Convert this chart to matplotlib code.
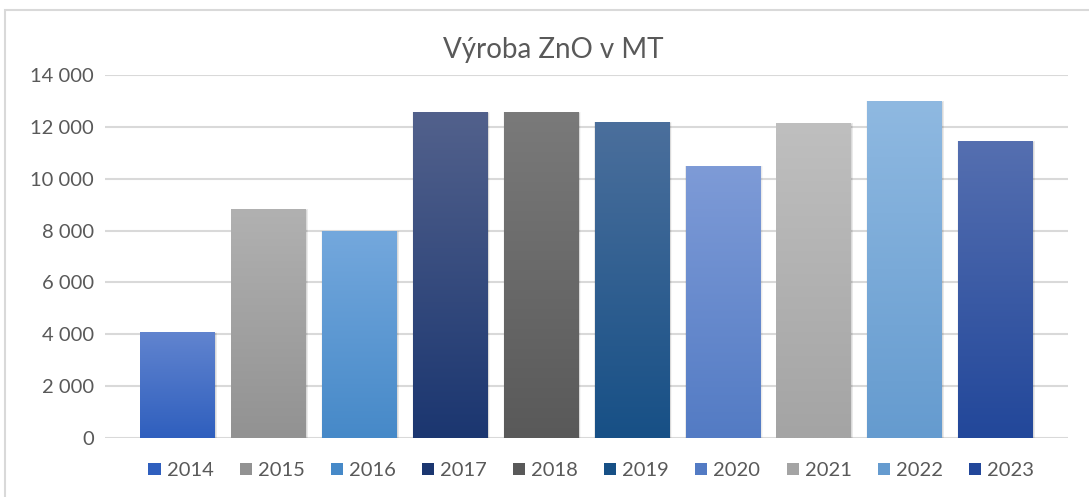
import numpy as np
from matplotlib import pyplot as plt
from matplotlib.patches import Rectangle
from matplotlib.colors import LinearSegmentedColormap
from matplotlib.ticker import FuncFormatter

years = ['2014', '2015', '2016', '2017', '2018', '2019', '2020', '2021', '2022', '2023']
production = [4080, 8830, 7980, 12570, 12570, 12190, 10490, 12150, 13000, 11450]
top_colors = ['#6184cf', '#b1b1b1', '#74a8dd', '#52618c', '#7a7a7a',
              '#4b6f9c', '#7e9bd7', '#bfbfbf', '#8fb9e1', '#556fb0']
bottom_colors = ['#2f5fbe', '#929292', '#4689c8', '#1b3670', '#595959',
                 '#175086', '#537bc4', '#a4a4a4', '#659bcf', '#22479a']

plt.rcParams['font.family'] = ['Lato', 'DejaVu Sans']

fig = plt.figure(figsize=(10.89, 4.97), dpi=100)
# chart border
fig.patches.append(Rectangle((5 / 1089, -0.1), 1.2, (497 - 10) / 497 + 0.1,
                             transform=fig.transFigure, fill=False,
                             edgecolor='#d9d9d9', linewidth=1.5))

ax = fig.add_axes([105 / 1089, 59 / 497, 963 / 1089, 363 / 497])

width = 0.82
for i, (v, c1, c2) in enumerate(zip(production, top_colors, bottom_colors)):
    # soft shadow
    for k, a in [(0.06, 0.03), (0.04, 0.05), (0.02, 0.07)]:
        ax.add_patch(Rectangle((i - width / 2 - k * 0.3 + 0.01, -60), width + k * 0.6,
                               v + k * 1200, facecolor='black', alpha=a,
                               edgecolor='none', zorder=2))
    cmap = LinearSegmentedColormap.from_list('g%d' % i, [c2, c1])
    grad = np.linspace(0, 1, 256).reshape(-1, 1)
    im = ax.imshow(grad, cmap=cmap, aspect='auto', origin='lower',
                   extent=(i - width / 2, i + width / 2, 0, v), zorder=3)
    rect = Rectangle((i - width / 2, 0), width, v, facecolor='none',
                     edgecolor='none', zorder=3)
    ax.add_patch(rect)
    im.set_clip_path(rect)

ax.set_xlim(-0.8, 9.8)
ax.set_ylim(0, 14000)
ax.set_yticks(range(0, 14001, 2000))
ax.yaxis.set_major_formatter(FuncFormatter(lambda v, p: f'{int(v):,}'.replace(',', ' ')))
ax.set_xticks([])
ax.grid(axis='y', color='#d9d9d9', linewidth=1.5, zorder=0)
ax.set_axisbelow(True)
for s in ax.spines.values():
    s.set_visible(False)
ax.tick_params(axis='y', length=0, pad=8, labelsize=14.5, labelcolor='#595959')

fig.text(0.508, 0.90, 'Výroba ZnO v MT', ha='center', va='center',
         fontsize=20, color='#595959')

handles = [Rectangle((0, 0), 1, 1, facecolor=c) for c in bottom_colors]
fig.legend(handles, years, loc='center', bbox_to_anchor=(0.543, 0.053), ncol=10,
           frameon=False, fontsize=14.5, labelcolor='#595959',
           handlelength=0.6, handleheight=0.6, handletextpad=0.3, columnspacing=1.3)

fig.savefig('out.png', dpi=100)
